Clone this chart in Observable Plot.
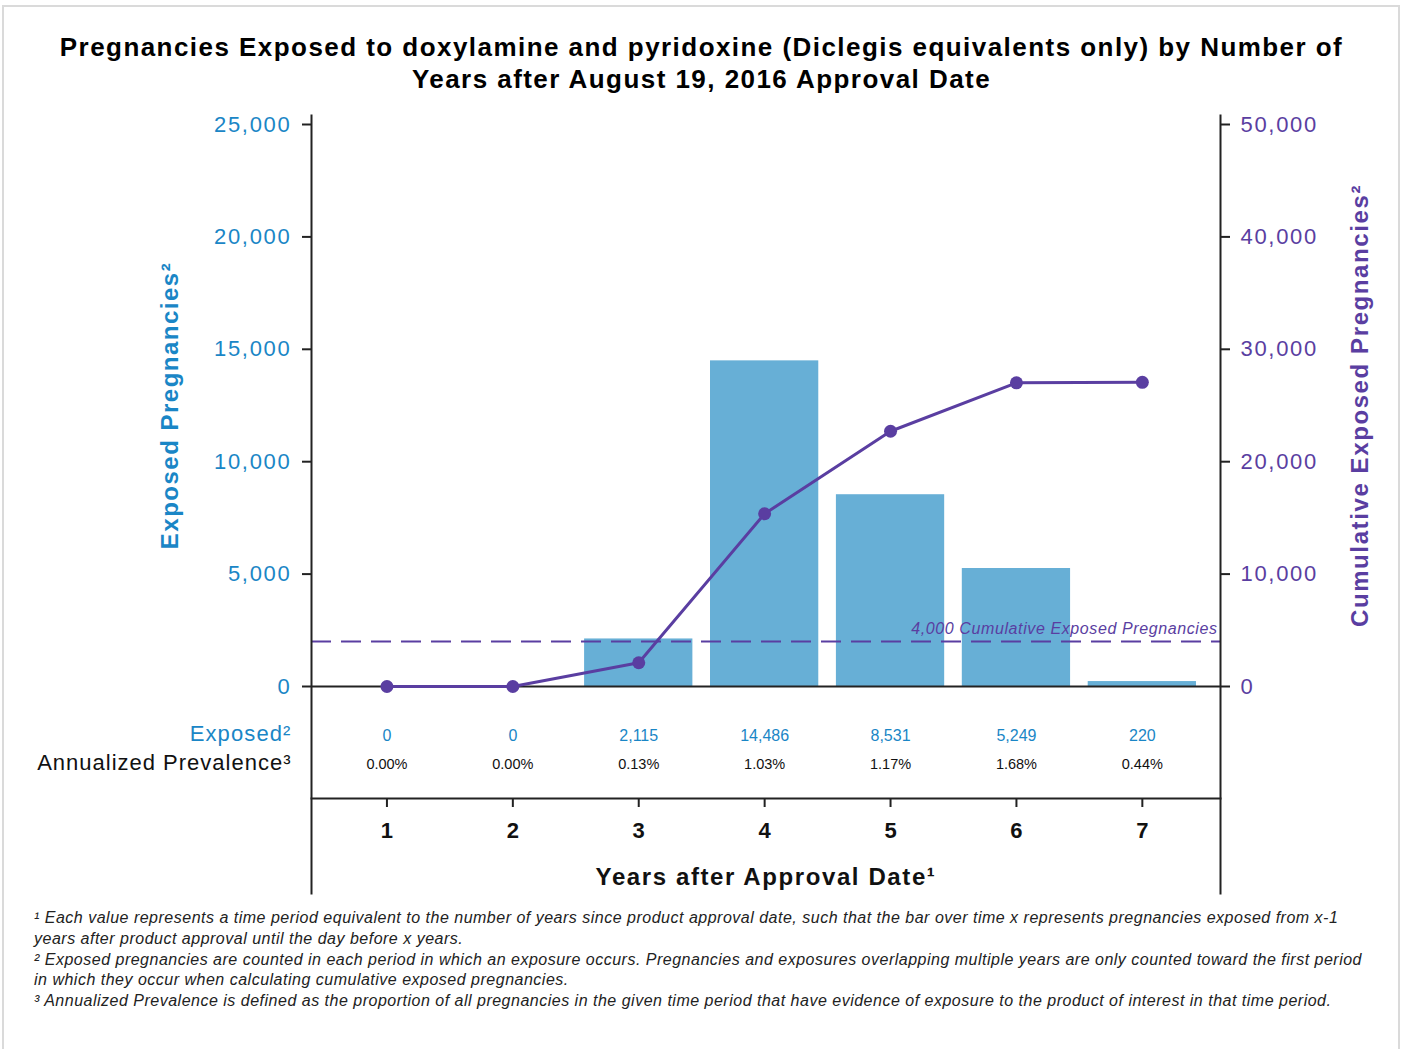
<!DOCTYPE html>
<html><head><meta charset="utf-8">
<script src="https://cdn.jsdelivr.net/npm/d3@7"></script>
<script src="https://cdn.jsdelivr.net/npm/@observablehq/plot@0.6"></script>
<style>
body{margin:0;background:#fff;font-family:"Liberation Sans",Arial,sans-serif;}
#wrap{position:relative;width:1403px;height:1049px;overflow:hidden;background:#fff;}
#border{position:absolute;left:2px;top:5px;width:1398px;height:1070px;border:2px solid #dadada;box-sizing:border-box;}
#title{position:absolute;left:0;top:31px;width:1403px;text-align:center;font-weight:bold;font-size:26px;line-height:32px;color:#000;letter-spacing:1.45px;}
#chart{position:absolute;left:0;top:0;}
#notes{position:absolute;left:34px;top:908px;font-style:italic;font-size:16px;line-height:20.8px;color:#222;white-space:nowrap;letter-spacing:0.5px;}
</style></head>
<body>
<div id="wrap">
<div id="border"></div>
<div id="chart"></div>
<div id="title">Pregnancies Exposed to doxylamine and pyridoxine (Diclegis equivalents only) by Number of<br>Years after August 19, 2016 Approval Date</div>
<div id="notes">¹ Each value represents a time period equivalent to the number of years since product approval date, such that the bar over time x represents pregnancies exposed from x-1<br>years after product approval until the day before x years.<br>² Exposed pregnancies are counted in each period in which an exposure occurs. Pregnancies and exposures overlapping multiple years are only counted toward the first period<br>in which they occur when calculating cumulative exposed pregnancies.<br>³ Annualized Prevalence is defined as the proportion of all pregnancies in the given time period that have evidence of exposure to the product of interest in that time period.</div>
</div>
<script>
const years = [1, 2, 3, 4, 5, 6, 7];
const exposed = [0, 0, 2115, 14486, 8531, 5249, 220];
const cumulative = [0, 0, 2115, 15370, 22710, 27020, 27060];
const prevalence = ["0.00%", "0.00%", "0.13%", "1.03%", "1.17%", "1.68%", "0.44%"];
const leftTicks = [0, 5000, 10000, 15000, 20000, 25000];
const rightTicks = [0, 10000, 20000, 30000, 40000, 50000];
const threshold = 4000;

const BLUE = "#1a86c6";
const BAR = "#67afd6";
const PURPLE = "#5a3ea1";
const INK = "#222";
const fmt = d3.format(",");
const ratio = rightTicks[rightTicks.length - 1] / leftTicks[leftTicks.length - 1];
const mid = (leftTicks[0] + leftTicks[leftTicks.length - 1]) / 2;

const xTitle = "Years after Approval Date¹";
const yTitleL = "Exposed Pregnancies²";
const yTitleR = "Cumulative Exposed Pregnancies²";
const refLabel = `${fmt(threshold)} Cumulative Exposed Pregnancies`;
const rowLabels = ["Exposed²", "Annualized Prevalence³"];

const rows = years.map((y, i) => ({year: y, exposed: exposed[i], cumulative: cumulative[i], prevalence: prevalence[i]}));

const chart = Plot.plot({
  width: 1403, height: 900,
  marginTop: 115, marginBottom: 102, marginLeft: 311, marginRight: 183,
  style: {fontFamily: "Liberation Sans, Arial, sans-serif", background: "transparent", overflow: "visible"},
  x: {type: "band", domain: years, paddingInner: 0.14, paddingOuter: 0.18, align: 0.47, round: false},
  y: {domain: [0, 25000], range: [686, 124]},
  marks: [
    Plot.barY(rows, {x: "year", y: "exposed", fill: BAR}),
    Plot.ruleY([threshold / ratio], {stroke: PURPLE, strokeWidth: 2, strokeDasharray: "20,10"}),
    Plot.text([threshold], {y: d => d / ratio, frameAnchor: "right", textAnchor: "end", dx: -3, dy: -13,
      text: () => refLabel, fontStyle: "italic", fontSize: 16, fill: PURPLE}),
    Plot.ruleY([0], {stroke: INK, strokeWidth: 2}),
    Plot.line(rows, {x: "year", y: d => d.cumulative / ratio, stroke: PURPLE, strokeWidth: 3}),
    Plot.dot(rows, {x: "year", y: d => d.cumulative / ratio, r: 6.5, fill: PURPLE}),
    Plot.frame({anchor: "left", stroke: INK, strokeWidth: 2, insetBottom: -95}),
    Plot.frame({anchor: "right", stroke: INK, strokeWidth: 2, insetBottom: -95}),
    Plot.frame({anchor: "bottom", stroke: INK, strokeWidth: 2}),
    Plot.axisY(leftTicks, {anchor: "left", tickSize: 9, tickPadding: 11, fontSize: 22, stroke: INK, strokeWidth: 2, fill: BLUE, tickFormat: fmt, label: null}),
    Plot.axisY(rightTicks.map(v => v / ratio), {anchor: "right", tickSize: 9, tickPadding: 11, fontSize: 22, stroke: INK, strokeWidth: 2, fill: PURPLE, tickFormat: v => fmt(v * ratio), label: null}),
    Plot.axisX({anchor: "bottom", tickSize: 9, tickPadding: 15, fontSize: 22, fontWeight: "bold", stroke: INK, strokeWidth: 2, fill: "#111", label: null}),
    Plot.text([xTitle], {text: d => d, frameAnchor: "bottom", dy: 86, fontSize: 24, fontWeight: "bold", fill: "#111"}),
    Plot.text([yTitleL], {text: d => d, y: () => mid, frameAnchor: "left", textAnchor: "middle", dx: -141, rotate: -90, fontSize: 24, fontWeight: "bold", fill: BLUE}),
    Plot.text([yTitleR], {text: d => d, y: () => mid, frameAnchor: "right", textAnchor: "middle", dx: 140, rotate: -90, fontSize: 24, fontWeight: "bold", fill: PURPLE}),
    Plot.text(rows, {x: "year", text: d => fmt(d.exposed), frameAnchor: "bottom", dy: -58, fill: BLUE, fontSize: 16}),
    Plot.text(rows, {x: "year", text: "prevalence", frameAnchor: "bottom", dy: -30, fill: "#111", fontSize: 14.5}),
    Plot.text([rowLabels[0]], {text: d => d, frameAnchor: "bottom-left", dx: -20, dy: -58, textAnchor: "end", fill: BLUE, fontSize: 22}),
    Plot.text([rowLabels[1]], {text: d => d, frameAnchor: "bottom-left", dx: -20, dy: -29, textAnchor: "end", fill: "#111", fontSize: 22})
  ]
});
const spacing = new Map([[xTitle, "1.6px"], [yTitleL, "1.5px"], [yTitleR, "1.6px"], [refLabel, "0.6px"], [rowLabels[0], "1.1px"], [rowLabels[1], "1px"]]);
d3.select(chart).selectAll("text").each(function() {
  const s = spacing.get(this.textContent);
  if (s) this.style.letterSpacing = s;
});
d3.select(chart).selectAll("g[aria-label='y-axis tick label'] text").style("letter-spacing", "1.7px");
document.getElementById("chart").appendChild(chart);
</script>
</body></html>
